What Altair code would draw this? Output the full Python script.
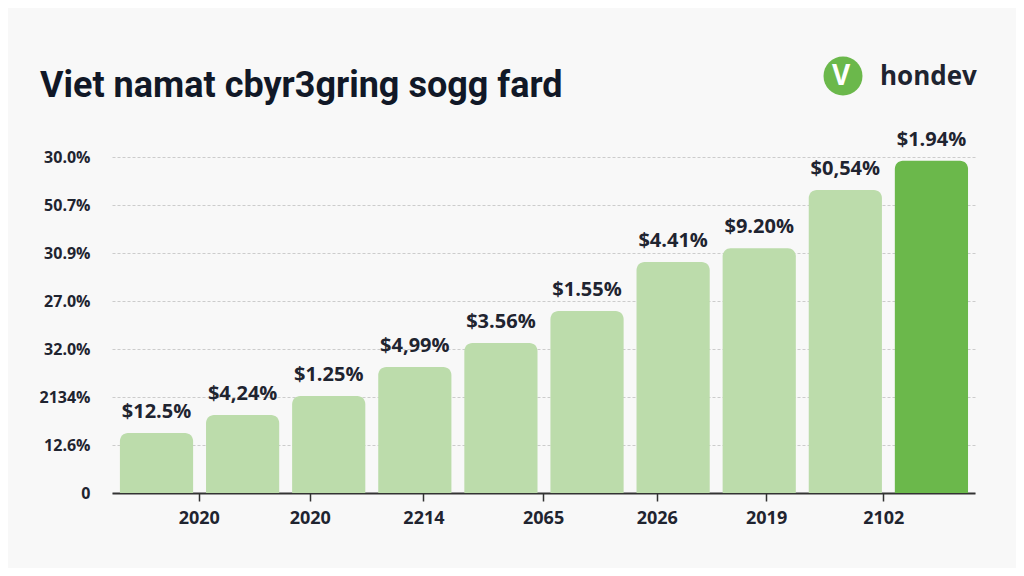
import altair as alt
import pandas as pd

# ---- data ----
bar_values = [1.25, 1.625, 2.02, 2.625, 3.125, 3.79, 4.81, 5.10, 6.31, 6.92]
bar_labels = ["$12.5%", "$4,24%", "$1.25%", "$4,99%", "$3.56%",
              "$1.55%", "$4.41%", "$9.20%", "$0,54%", "$1.94%"]
highlight = ["no"] * 9 + ["yes"]
y_tick_labels = ["0", "12.6%", "2134%", "32.0%", "27.0%", "30.9%", "50.7%", "30.0%"]
x_tick_pos = [1.49, 2.78, 4.10, 5.49, 6.81, 8.08, 9.44]
x_tick_labels = ["2020", "2020", "2214", "2065", "2026", "2019", "2102"]
title_text = "Viet namat cbyr3gring sogg fard"
brand_text = "hondev"

half = 0.425
df = pd.DataFrame({
    "pos": list(range(1, len(bar_values) + 1)),
    "value": bar_values,
    "label": bar_labels,
    "hl": highlight,
})
df["x0"] = df["pos"] - half
df["x1"] = df["pos"] + half

xlab_expr = "[" + ",".join(f"'{s}'" for s in x_tick_labels) + "][indexof([" + \
    ",".join(str(v) for v in x_tick_pos) + "], datum.value)]"
ylab_expr = "[" + ",".join(f"'{s}'" for s in y_tick_labels) + "][datum.value]"

xscale = alt.Scale(domain=[0.483, 10.506], nice=False, zero=False)
yscale = alt.Scale(domain=[0, 7], nice=False)

base = alt.Chart(df)

bars = base.mark_bar(cornerRadiusTopLeft=8, cornerRadiusTopRight=8).encode(
    x=alt.X("x0:Q", scale=xscale, axis=alt.Axis(
        values=x_tick_pos, labelExpr=xlab_expr, title=None, grid=False,
        domainColor="#333333", domainWidth=2, tickColor="#333333", tickWidth=1.5,
        tickSize=8, labelPadding=8, labelFont="Open Sans", labelFontWeight="bold",
        labelFontSize=18, labelColor="#1f2430")),
    x2="x1:Q",
    y=alt.Y("value:Q", scale=yscale, axis=alt.Axis(
        values=list(range(8)), labelExpr=ylab_expr, title=None, domain=False,
        ticks=False, grid=True, gridColor="#cccccc", gridDash=[3, 2], gridWidth=1,
        labelPadding=22, labelFont="Open Sans", labelFontWeight="bold",
        labelFontSize=16, labelColor="#1f2430")),
    y2=alt.datum(0),
    color=alt.Color("hl:N", scale=alt.Scale(domain=["no", "yes"],
                                            range=["#bcdcab", "#6bb84b"]), legend=None),
)

labels = base.mark_text(font="Open Sans", fontWeight="bold", fontSize=20,
                        color="#1f2430", baseline="alphabetic", dy=-15).encode(
    x=alt.X("pos:Q", scale=xscale),
    y=alt.Y("value:Q", scale=yscale),
    text="label:N",
)

logo_df = pd.DataFrame({"t": [brand_text]})
logo_circle = alt.Chart(logo_df).mark_point(
    shape="circle", filled=True, size=1520, color="#6bb84b", opacity=1).encode(
    x=alt.value(731), y=alt.value(-81))
logo_v = alt.Chart(logo_df).mark_text(
    text="V", font="Open Sans", fontWeight="bold", fontSize=28, color="white",
    baseline="middle", align="center").encode(x=alt.value(729), y=alt.value(-80))
logo_text = alt.Chart(logo_df).mark_text(
    font="Open Sans", fontWeight="bold", fontSize=26, color="#1f2430",
    baseline="alphabetic", align="left").encode(
    x=alt.value(768), y=alt.value(-72), text="t:N")

chart = alt.layer(bars, labels, logo_circle, logo_v, logo_text).properties(
    width=863, height=336,
    autosize=alt.AutoSizeParams(type="none"),
    padding={"left": 104, "top": 149, "right": 41, "bottom": 75},
    title=alt.TitleParams(title_text, anchor="start", frame="group", dx=-72, dy=58,
                          font="Roboto", fontSize=36,
                          fontWeight="bold", color="#111827", offset=10),
).configure(background="#f8f8f8").configure_view(stroke=None)

chart.save("out.html", embed_options={"renderer": "svg", "actions": False})
